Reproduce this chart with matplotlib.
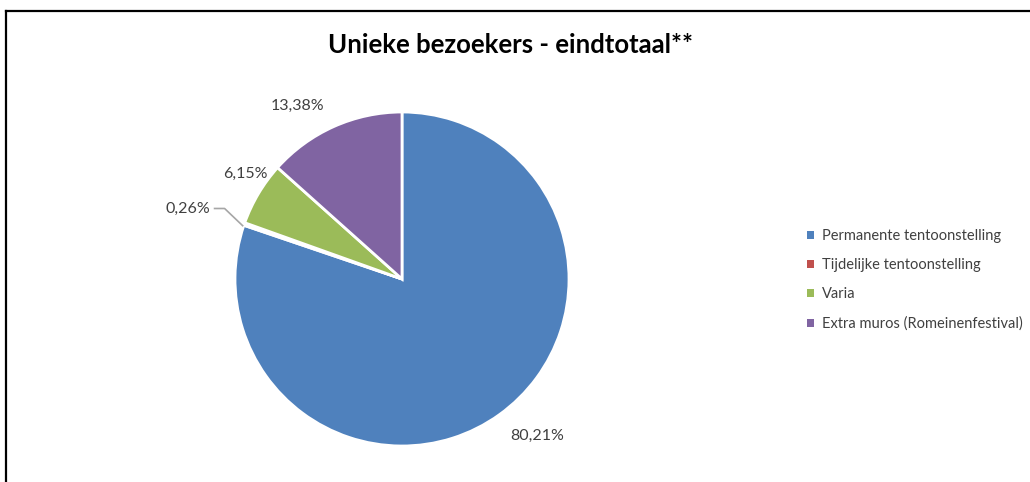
import numpy as np
import matplotlib.pyplot as plt
from matplotlib.lines import Line2D
from matplotlib.patches import Patch

plt.rcParams['font.family'] = ['Lato', 'DejaVu Sans']

categories = ["Permanente tentoonstelling", "Tijdelijke tentoonstelling",
              "Varia", "Extra muros (Romeinenfestival)"]
values = [80.21, 0.26, 6.15, 13.38]
labels = ["80,21%", "0,26%", "6,15%", "13,38%"]
colors = ["#4F81BD", "#C0504D", "#9BBB59", "#8064A2"]

W, H = 1030, 482
fig = plt.figure(figsize=(W / 100, H / 100), dpi=100)

# frame like the excel chart area (top + left only visible)
fig.add_artist(Line2D([6 / W, 1], [1 - 11 / H, 1 - 11 / H], color="black", lw=1.6))
fig.add_artist(Line2D([6 / W, 6 / W], [0, 1 - 11 / H], color="black", lw=1.6))

cx, cy, r = 402, 279, 167
ax = fig.add_axes([(cx - r) / W, (H - cy - r) / H, 2 * r / W, 2 * r / H])
wedges, _ = ax.pie(values, colors=colors, startangle=90, counterclock=False,
                   wedgeprops=dict(edgecolor="white", linewidth=2))
ax.set_xlim(-1, 1)
ax.set_ylim(-1, 1)
ax.set_aspect("equal")
for w in wedges:
    w.set_clip_on(False)

# label placement (angle tweak, distance) like excel best fit
offsets = [(5, 1.24), (1, 1.35), (-3, 1.13), (7, 1.21)]
for w, lab, (da, dist) in zip(wedges, labels, offsets):
    ang = np.deg2rad((w.theta1 + w.theta2) / 2 + da)
    x, y = dist * np.cos(ang), dist * np.sin(ang)
    ax.text(x, y, lab, ha="center", va="center", fontsize=11.5, color="#404040",
            clip_on=False)
    if lab == "0,26%":
        a0 = np.deg2rad((w.theta1 + w.theta2) / 2)
        ax.plot([x + 0.16, x + 0.22, 1.0 * np.cos(a0) - 0.01],
                [y, y, 1.0 * np.sin(a0) - 0.01],
                color="#A6A6A6", lw=1.2, clip_on=False)

fig.text(511 / W, 1 - 45 / H, "Unieke bezoekers - eindtotaal**", ha="center",
         va="center", fontsize=18.5, fontweight="bold", color="black")

handles = [Patch(facecolor=c, edgecolor="none") for c in colors]
fig.legend(handles, categories, loc="center left", bbox_to_anchor=(794 / W, 1 - 280 / H),
           frameon=False, fontsize=10.5, labelcolor="#404040", handlelength=0.45,
           handleheight=0.45, handletextpad=0.6, labelspacing=1.05)

fig.savefig("out.png", dpi=100, facecolor="white")
